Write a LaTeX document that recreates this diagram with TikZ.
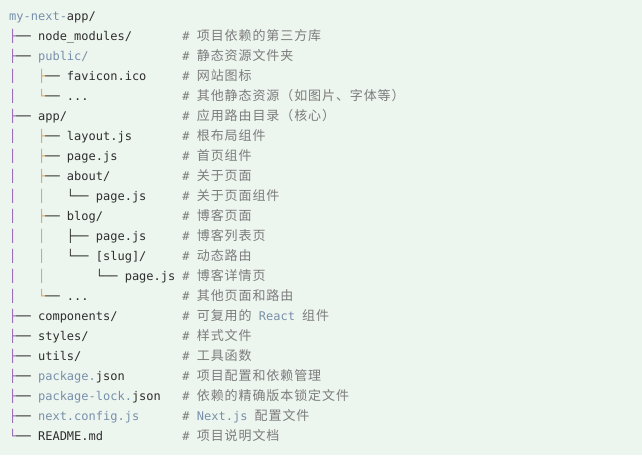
\documentclass[tikz,border=0pt]{standalone}
\usepackage{fontspec}
\usepackage{xcolor}
\setmonofont{DejaVu Sans Mono}
\newfontfamily\cjk{Noto Sans CJK SC}[LetterSpace=7]

\definecolor{codebg}{HTML}{EDF5EF}
\definecolor{ink}{HTML}{2E2E2E}
\definecolor{dimname}{HTML}{7790AA}
\definecolor{remark}{HTML}{7C7C7C}
\definecolor{guideA}{HTML}{8E5BB0}
\definecolor{guideB}{HTML}{DA9E4E}

\newcommand{\ga}[1]{\textcolor{guideA}{#1}}
\newcommand{\gb}[1]{\textcolor{guideB}{#1}}
\newcommand{\nm}[1]{\textcolor{dimname}{#1}}
\newcommand{\zh}[1]{{\fontsize{13}{15}\selectfont\cjk #1}}

\tikzset{
  entry/.style={anchor=base west, inner sep=0pt, font=\fontsize{12}{14}\selectfont\ttfamily, text=ink},
  note/.style={entry, text=remark},
}

\begin{document}
\begin{tikzpicture}[x=7.22pt, y=-20pt]

% code block background
\path[fill=codebg] (-9pt,20.5pt) rectangle (633pt,-434.5pt);

% tree
\node[entry] (root) at (0,0) {\nm{my-next-}app/};
\node[entry] (nodemod) at (0,1) {\ga{├}──~node\_modules/};
\node[entry] (public) at (0,2) {\ga{├}──~\nm{public/}};
\node[entry] (favicon) at (0,3) {\ga{│}~~~\gb{├}──~favicon.ico};
\node[entry] (pubrest) at (0,4) {\ga{│}~~~\gb{└}──~...};
\node[entry] (app) at (0,5) {\ga{├}──~app/};
\node[entry] (layout) at (0,6) {\ga{│}~~~\gb{├}──~layout.js};
\node[entry] (home) at (0,7) {\ga{│}~~~\gb{├}──~page.js};
\node[entry] (about) at (0,8) {\ga{│}~~~\gb{├}──~about/};
\node[entry] (aboutpage) at (0,9) {\ga{│}~~~\gb{│}~~~└──~page.js};
\node[entry] (blog) at (0,10) {\ga{│}~~~\gb{├}──~blog/};
\node[entry] (blogpage) at (0,11) {\ga{│}~~~\gb{│}~~~├──~page.js};
\node[entry] (slug) at (0,12) {\ga{│}~~~\gb{│}~~~└──~[slug]/};
\node[entry] (slugpage) at (0,13) {\ga{│}~~~\gb{│}~~~~~~~└──~page.js};
\node[entry] (apprest) at (0,14) {\ga{│}~~~\gb{└}──~...};
\node[entry] (components) at (0,15) {\ga{├}──~components/};
\node[entry] (styles) at (0,16) {\ga{├}──~styles/};
\node[entry] (utils) at (0,17) {\ga{├}──~utils/};
\node[entry] (pkg) at (0,18) {\ga{├}──~\nm{package.}json};
\node[entry] (pkglock) at (0,19) {\ga{├}──~\nm{package-lock.}json};
\node[entry] (nextcfg) at (0,20) {\ga{├}──~\nm{next.config.js}};
\node[entry] (readme) at (0,21) {\ga{└}──~README.md};

% comments
\node[note] (nodemod-c) at (24,1) {\#~\zh{项目依赖的第三方库}};
\node[note] (public-c) at (24,2) {\#~\zh{静态资源文件夹}};
\node[note] (favicon-c) at (24,3) {\#~\zh{网站图标}};
\node[note] (pubrest-c) at (24,4) {\#~\zh{其他静态资源（如图片、字体等）}};
\node[note] (app-c) at (24,5) {\#~\zh{应用路由目录（核心）}};
\node[note] (layout-c) at (24,6) {\#~\zh{根布局组件}};
\node[note] (home-c) at (24,7) {\#~\zh{首页组件}};
\node[note] (about-c) at (24,8) {\#~\zh{关于页面}};
\node[note] (aboutpage-c) at (24,9) {\#~\zh{关于页面组件}};
\node[note] (blog-c) at (24,10) {\#~\zh{博客页面}};
\node[note] (blogpage-c) at (24,11) {\#~\zh{博客列表页}};
\node[note] (slug-c) at (24,12) {\#~\zh{动态路由}};
\node[note] (slugpage-c) at (24,13) {\#~\zh{博客详情页}};
\node[note] (apprest-c) at (24,14) {\#~\zh{其他页面和路由}};
\node[note] (components-c) at (24,15) {\#~\zh{可复用的}~\nm{React}~\zh{组件}};
\node[note] (styles-c) at (24,16) {\#~\zh{样式文件}};
\node[note] (utils-c) at (24,17) {\#~\zh{工具函数}};
\node[note] (pkg-c) at (24,18) {\#~\zh{项目配置和依赖管理}};
\node[note] (pkglock-c) at (24,19) {\#~\zh{依赖的精确版本锁定文件}};
\node[note] (nextcfg-c) at (24,20) {\#~\nm{Next.js}~\zh{配置文件}};
\node[note] (readme-c) at (24,21) {\#~\zh{项目说明文档}};

\end{tikzpicture}
\end{document}
